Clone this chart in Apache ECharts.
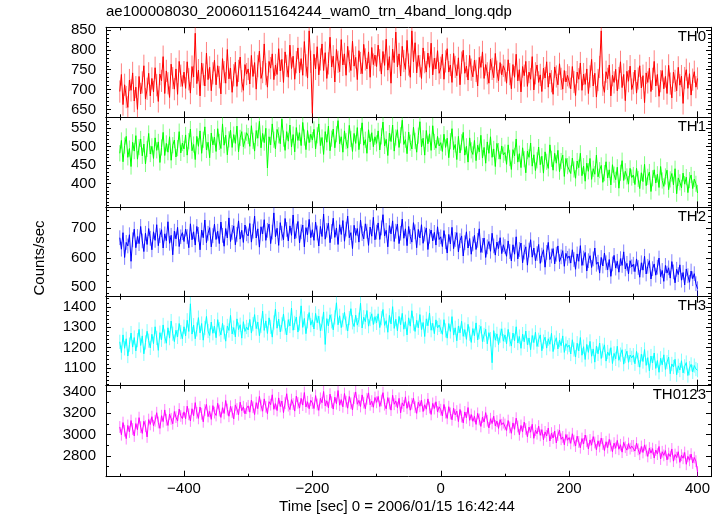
<!DOCTYPE html>
<html><head><meta charset="utf-8">
<script src="https://cdn.jsdelivr.net/npm/echarts@6/dist/echarts.min.js"></script>
<style>html,body{margin:0;padding:0;background:#fff}#c{width:724px;height:516px}</style>
</head><body><div id="c"></div>
<script>
// time bins span (sec)
const tStart = -500, tEnd = 400;

const th0 = [
695,738,662,712,681,655,724,698,742,671,706,650,733,689,718,760,676,702,741,684,
728,694,755,711,670,739,722,783,690,747,716,680,764,729,701,752,688,771,735,708,
744,703,770,726,691,758,732,842,715,749,684,767,738,709,792,725,756,697,741,774,
712,760,731,689,778,744,716,801,727,754,693,736,769,708,747,782,721,698,763,739,
752,714,786,733,768,701,759,797,728,744,815,739,706,771,754,790,725,762,738,803,
747,776,718,795,760,731,812,753,784,726,769,805,742,778,736,821,761,729,848,770,
640,789,752,808,737,776,815,748,793,728,766,832,757,784,719,801,770,745,826,762,
790,736,809,771,748,822,759,781,725,798,767,740,814,776,752,795,731,806,763,787,
758,812,774,739,796,761,827,749,783,716,802,768,845,757,790,734,809,772,751,824,
763,731,848,770,818,742,786,759,728,805,769,744,792,756,817,737,779,752,798,741,
755,789,726,771,803,744,762,718,791,757,735,780,712,768,799,741,759,724,786,750,
732,774,747,709,781,756,795,728,763,741,716,777,752,730,791,745,722,768,737,760,
748,716,775,739,702,763,731,789,722,750,694,758,735,771,708,744,726,783,699,741,
762,718,737,695,754,729,770,706,742,721,688,757,733,712,765,727,701,748,719,736,
731,702,758,719,685,744,726,767,698,739,713,752,690,733,776,709,741,681,724,757,
848,712,693,745,727,762,684,736,718,751,697,729,770,705,738,672,746,721,759,700,
716,749,691,728,760,704,735,667,742,718,754,695,727,771,709,738,683,721,748,702,
733,690,761,715,679,744,722,697,756,711,734,665,729,750,703,740,686,725,745,706,
728];
const th1 = [
482,517,459,503,528,471,495,446,512,488,530,466,499,521,475,507,453,494,536,480,
501,468,524,490,513,457,498,539,476,509,485,527,463,504,518,472,496,541,483,510,
494,532,477,515,548,489,506,465,528,501,543,482,519,554,491,512,470,537,505,526,
487,549,513,495,562,504,531,478,520,545,498,533,509,556,486,524,541,500,517,538,
529,501,557,516,488,544,523,569,497,536,511,550,442,527,505,562,519,494,547,531,
508,575,522,490,541,515,559,499,533,486,552,517,538,503,566,525,492,544,511,534,
518,547,494,531,562,503,525,479,541,512,556,489,522,548,497,534,571,508,527,485,
543,515,496,558,521,487,536,509,552,492,529,565,504,519,482,546,513,538,500,527,
509,543,491,528,567,502,520,476,537,514,559,488,525,546,498,531,572,506,519,481,
540,511,494,553,516,485,530,568,499,523,477,544,508,535,490,557,513,496,528,502,
511,487,534,498,523,470,515,549,492,506,465,528,483,512,539,477,501,458,524,490,
479,517,462,504,486,531,469,498,455,513,482,527,471,494,446,509,488,466,502,478,
484,452,505,469,438,492,475,521,458,481,443,497,466,429,488,471,510,447,478,435,
463,499,451,474,428,486,459,441,505,467,436,482,455,490,432,461,477,419,468,447,
452,427,469,438,414,461,443,482,421,447,406,455,433,468,411,440,425,477,418,436,
449,403,428,459,415,437,396,451,424,410,444,387,429,462,408,433,419,398,441,416,
423,397,441,412,386,429,405,452,394,418,431,378,414,437,401,425,389,446,408,392,
419,436,383,411,427,396,440,372,415,403,388,428,398,417,375,409,423,386,412,399,
374];
const th2 = [
668,629,685,601,652,640,678,588,661,697,634,672,648,706,657,621,683,645,699,666,
627,688,659,712,641,675,695,633,681,658,722,649,676,610,690,664,703,638,671,685,
655,697,672,634,715,661,688,643,706,679,627,694,668,728,651,683,702,637,675,714,
662,690,648,721,676,639,699,667,735,655,686,708,644,679,725,663,693,652,711,681,
674,716,653,690,741,667,698,636,705,681,729,659,693,714,648,687,752,671,700,642,
719,683,661,733,696,657,708,676,745,664,691,723,650,688,711,637,702,678,730,668,
695,659,721,684,640,706,672,748,663,693,717,651,689,734,669,701,645,712,679,726,
656,697,741,668,685,631,710,676,699,653,728,682,664,715,690,642,704,673,737,661,
687,718,662,701,746,674,693,637,709,681,725,655,690,714,648,683,731,666,698,641,
706,672,653,719,688,634,696,667,712,649,680,701,628,673,694,657,686,643,705,662,
671,638,692,654,616,679,647,703,631,662,685,620,658,674,606,651,688,633,665,612,
647,676,628,659,698,618,642,667,601,637,655,622,683,640,609,653,631,668,614,644,
638,605,657,621,589,644,612,671,596,628,650,583,619,637,575,626,661,602,633,590,
614,645,581,609,627,568,618,652,594,606,631,579,612,640,587,603,624,571,615,598,
606,582,627,594,561,613,588,641,574,599,618,555,590,607,567,596,633,578,585,548,
601,572,616,583,559,594,537,579,608,565,588,551,597,574,620,562,581,545,590,569,
578,553,596,567,534,583,558,605,545,571,590,528,563,579,541,568,599,536,557,520,
574,548,566,531,587,552,515,561,543,576,524,550,508,562,539,517,555,529,546,512,
495];
const th3 = [
1228,1175,1262,1196,1243,1158,1214,1271,1202,1249,1183,1236,1289,1210,1257,1169,1225,1280,1234,1198,
1265,1219,1302,1247,1186,1273,1238,1311,1254,1221,1297,1246,1330,1268,1229,1285,1252,1318,1276,1243,
1302,1257,1334,1279,1415,1266,1310,1243,1289,1347,1272,1318,1236,1296,1353,1281,1259,1325,1270,1305,
1248,1337,1290,1262,1319,1275,1231,1306,1284,1358,1267,1298,1252,1341,1288,1312,1246,1327,1279,1301,
1286,1338,1271,1315,1362,1293,1325,1258,1307,1379,1284,1331,1269,1346,1302,1251,1323,1389,1295,1340,
1277,1314,1365,1298,1262,1337,1306,1394,1285,1321,1350,1276,1318,1405,1299,1343,1268,1329,1372,1310,
1336,1291,1368,1322,1354,1283,1317,1375,1215,1342,1306,1361,1329,1287,1348,1420,1312,1356,1298,1335,
1373,1318,1281,1345,1391,1324,1303,1359,1310,1337,1418,1296,1349,1327,1382,1305,1340,1366,1313,1352,
1321,1366,1298,1344,1387,1309,1332,1275,1358,1316,1401,1294,1339,1282,1353,1312,1368,1290,1327,1262,
1346,1305,1381,1318,1279,1334,1297,1362,1288,1323,1254,1341,1307,1370,1285,1319,1268,1336,1296,1311,
1302,1265,1337,1284,1246,1318,1279,1352,1261,1297,1233,1306,1272,1329,1255,1288,1240,1314,1268,1225,
1293,1258,1321,1237,1276,1304,1229,1262,1290,1218,1273,1241,1125,1283,1236,1267,1214,1258,1292,1231,
1262,1218,1289,1240,1207,1271,1233,1302,1222,1254,1196,1266,1228,1281,1213,1247,1189,1259,1224,1275,
1205,1238,1262,1184,1229,1251,1197,1243,1216,1270,1180,1225,1248,1193,1236,1209,1257,1176,1219,1201,
1212,1168,1238,1190,1153,1221,1183,1249,1162,1204,1141,1215,1176,1230,1157,1193,1128,1207,1169,1222,
1146,1185,1213,1133,1178,1160,1199,1121,1171,1144,1206,1137,1165,1189,1118,1158,1182,1127,1163,1149,
1162,1120,1181,1139,1103,1167,1131,1190,1112,1150,1085,1158,1124,1173,1097,1136,1078,1147,1115,1164,
1092,1128,1153,1071,1119,1104,1142,1066,1110,1089,1135,1075,1107,1126,1062,1098,1117,1080,1111,1094,
1088];
const th0123 = [
3071,2998,3112,3036,2962,3085,3024,3131,3052,2987,3103,3046,3158,3069,3011,3124,3078,2978,3140,3095,
3167,3082,3129,3204,3113,3058,3176,3121,3230,3138,3085,3192,3147,3101,3215,3163,3126,3238,3174,3149,
3212,3148,3265,3189,3127,3241,3176,3298,3203,3151,3257,3194,3119,3229,3281,3168,3216,3142,3270,3205,
3178,3292,3224,3160,3251,3197,3318,3233,3171,3264,3210,3146,3277,3238,3185,3302,3222,3259,3193,3246,
3268,3209,3321,3255,3187,3298,3242,3356,3271,3218,3333,3260,3195,3307,3279,3371,3236,3289,3224,3342,
3262,3313,3205,3294,3381,3270,3233,3326,3284,3219,3359,3296,3247,3338,3275,3392,3258,3306,3241,3320,
3295,3243,3364,3281,3226,3338,3297,3402,3269,3315,3250,3377,3302,3238,3349,3288,3411,3274,3326,3259,
3383,3307,3246,3355,3292,3229,3341,3398,3283,3319,3262,3370,3298,3241,3334,3389,3278,3312,3255,3346,
3301,3356,3262,3318,3391,3279,3240,3345,3290,3228,3367,3283,3314,3251,3338,3203,3296,3266,3352,3245,
3309,3227,3287,3340,3256,3198,3302,3264,3321,3215,3278,3237,3333,3252,3188,3291,3243,3306,3211,3259,
3232,3174,3281,3205,3151,3260,3197,3138,3246,3183,3219,3121,3234,3168,3109,3211,3156,3252,3133,3187,
3124,3170,3095,3198,3141,3076,3163,3117,3205,3129,3062,3148,3103,3172,3081,3126,3057,3139,3092,3111,
3094,3038,3131,3067,3012,3109,3049,3153,3076,2998,3085,3027,3116,3053,2979,3070,3022,3096,2965,3041,
3008,3079,2993,3046,2951,3025,2987,3061,2940,3014,2968,3033,2922,2995,3042,2956,2978,2905,3001,2947,
2972,2918,3008,2944,2893,2985,2931,2877,2963,2912,2996,2938,2865,2950,2901,2981,2926,2858,2942,2889,
2967,2912,2851,2933,2878,2955,2897,2841,2920,2872,2946,2863,2905,2836,2928,2882,2855,2917,2869,2894,
2895,2846,2921,2862,2817,2889,2833,2904,2852,2796,2875,2827,2869,2781,2856,2818,2889,2772,2840,2806,
2851,2764,2823,2795,2866,2752,2814,2785,2840,2741,2808,2779,2833,2723,2797,2760,2818,2735,2786,2752,
2650];
// typical 1-sigma error per band (counts/sec)
const errs = [28, 22, 25, 35, 55];

const panelNames = ['TH0','TH1','TH2','TH3','TH0123'];
const yMajorTicks = [[650,700,750,800,850],[400,450,500,550],[500,600,700],[1100,1200,1300,1400],[2800,3000,3200,3400]];
const xMajorTicks = [-400,-200,0,200,400];
const xMinorTicks = [-500,-300,-100,100,300];
const titleText = 'ae100008030_20060115164244_wam0_trn_4band_long.qdp';
const xTitle = 'Time [sec] 0 = 2006/01/15 16:42:44';
const yTitle = 'Counts/sec';

// layout / style
const allSeries = [th0, th1, th2, th3, th0123];
const colors = ['#ff0000','#00ff00','#0000ff','#00ffff','#ff00ff'];
const yRanges = [[630,857],[335,580],[468,771],[1012,1450],[2607,3456]];
const yMinorStep = [10,10,20,20,100];
const xRange = [-521.5, 421];
const tops = [27.3,117.3,207.3,296.7,385.7];
const bottomEdge = 476.7;
const FONT = '"Liberation Sans", Arial, Helvetica, sans-serif';
const W = 724, H = 516;

const grids = [], xAxes = [], yAxes = [], series = [], graphics = [];
for (let g = 0; g < 5; g++) {
  const top = tops[g];
  const bot = g < 4 ? tops[g+1] : bottomEdge;
  grids.push({left: 106, right: 13, top: top, height: bot - top, containLabel: false});
  const xBase = {type:'value', gridIndex:g, min:xRange[0], max:xRange[1], splitLine:{show:false}};
  const lineOn = {show:true, onZero:false, lineStyle:{color:'#000', width:1}};
  const lineOff = {show:false, onZero:false};
  xAxes.push(Object.assign({}, xBase, {position:'bottom', axisLine:lineOn,
    axisTick:{show:true, inside:true, length:6, customValues:xMajorTicks, lineStyle:{color:'#000'}},
    axisLabel:{show:g===4, customValues:xMajorTicks, margin:5, fontSize:15, color:'#000', fontFamily:FONT,
      formatter:v => (v<0 ? '\u2212'+Math.abs(v) : ''+v)}}));
  xAxes.push(Object.assign({}, xBase, {position:'bottom', axisLine:lineOff,
    axisTick:{show:true, inside:true, length:3, customValues:xMinorTicks, lineStyle:{color:'#000'}},
    axisLabel:{show:false}}));
  xAxes.push(Object.assign({}, xBase, {position:'top', axisLine:lineOn,
    axisTick:{show:true, inside:true, length:6, customValues:xMajorTicks, lineStyle:{color:'#000'}},
    axisLabel:{show:false}}));
  xAxes.push(Object.assign({}, xBase, {position:'top', axisLine:lineOff,
    axisTick:{show:true, inside:true, length:3, customValues:xMinorTicks, lineStyle:{color:'#000'}},
    axisLabel:{show:false}}));

  const yr = yRanges[g];
  const majors = yMajorTicks[g];
  const minors = [];
  const st = yMinorStep[g];
  for (let v = Math.ceil(yr[0]/st)*st; v <= yr[1]; v += st) {
    if (majors.indexOf(v) < 0) minors.push(v);
  }
  const yBase = {type:'value', gridIndex:g, min:yr[0], max:yr[1], splitLine:{show:false}};
  yAxes.push(Object.assign({}, yBase, {position:'left', axisLine:lineOn,
    axisTick:{show:true, inside:true, length:5, customValues:majors, lineStyle:{color:'#000'}},
    axisLabel:{show:true, customValues:majors, margin:10, fontSize:15, color:'#000', fontFamily:FONT,
      formatter:v => String(v)}}));
  yAxes.push(Object.assign({}, yBase, {position:'left', axisLine:lineOff,
    axisTick:{show:true, inside:true, length:3, customValues:minors, lineStyle:{color:'#000'}},
    axisLabel:{show:false}}));
  yAxes.push(Object.assign({}, yBase, {position:'right', axisLine:lineOn,
    axisTick:{show:true, inside:true, length:5, customValues:majors, lineStyle:{color:'#000'}},
    axisLabel:{show:false}}));
  yAxes.push(Object.assign({}, yBase, {position:'right', axisLine:lineOff,
    axisTick:{show:true, inside:true, length:3, customValues:minors, lineStyle:{color:'#000'}},
    axisLabel:{show:false}}));

  const vals = allSeries[g];
  const dt = (tEnd - tStart) / (vals.length - 1);
  const lineData = vals.map((v,i) => [tStart + i*dt, v]);
  const errData = vals.map((v,i) => [tStart + i*dt, v, errs[g]]);
  const col = colors[g];
  series.push({
    type:'custom', xAxisIndex:4*g, yAxisIndex:4*g, data:errData, clip:true, silent:true,
    encode:{x:0, y:1},
    renderItem:(params, api) => {
      const x = api.value(0), v = api.value(1), e = api.value(2);
      const p1 = api.coord([x, v-e]), p2 = api.coord([x, v+e]);
      return {type:'line', shape:{x1:p1[0], y1:p1[1], x2:p2[0], y2:p2[1]},
        style:{stroke:col, lineWidth:1, opacity:0.5}};
    }
  });
  series.push({
    type:'line', xAxisIndex:4*g, yAxisIndex:4*g, data:lineData, showSymbol:false, symbol:'none',
    lineStyle:{color:col, width:1}, clip:true, silent:true
  });
  graphics.push({type:'text', right: W-706, top: top + 2,
    style:{text:panelNames[g], font:'15px ' + FONT, fill:'#000'}});
}

graphics.push({type:'text', left:106, top:4, style:{text:titleText, font:'15px ' + FONT, fill:'#000'}});
graphics.push({type:'text', x:397, y:507, style:{text:xTitle, font:'15px ' + FONT, fill:'#000', textAlign:'center', textVerticalAlign:'middle'}});
graphics.push({type:'text', x:40, y:258, rotation:Math.PI/2, style:{text:yTitle, font:'15px ' + FONT, fill:'#000', textAlign:'center', textVerticalAlign:'middle'}});

const chart = echarts.init(document.getElementById('c'), null, {renderer:'canvas'});
chart.setOption({
  animation:false,
  backgroundColor:'#fff',
  grid:grids, xAxis:xAxes, yAxis:yAxes, series:series, graphic:graphics
});
</script></body></html>
